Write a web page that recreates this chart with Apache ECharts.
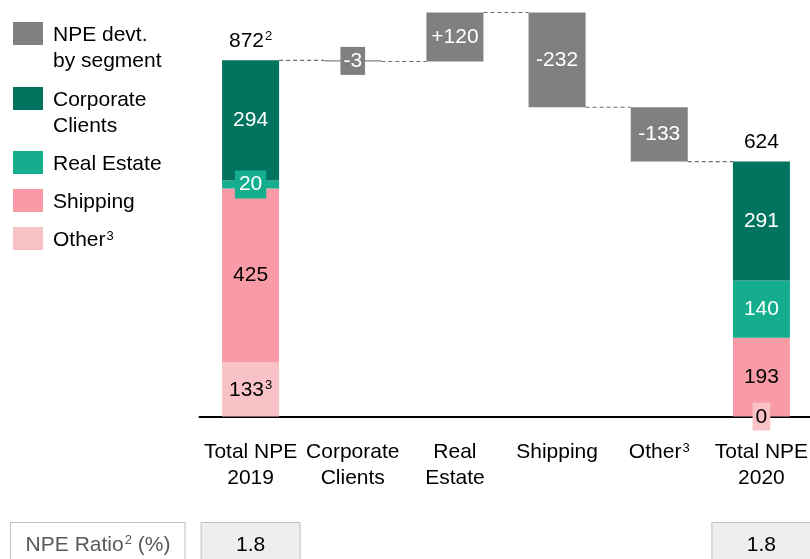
<!DOCTYPE html>
<html><head><meta charset="utf-8">
<script src="https://cdn.jsdelivr.net/npm/echarts@6/dist/echarts.min.js"></script>
<style>html,body{margin:0;padding:0;background:#fff}#c{width:810px;height:559px}</style>
</head><body><div id="c"></div>
<script>
// ---- data ----
const categories = ['Total NPE\n2019', 'Corporate\nClients', 'Real\nEstate', 'Shipping', 'Other³', 'Total NPE\n2020'];
const corporate  = [294, null, null, null, null, 291];
const realEstate = [20,  null, null, null, null, 140];
const shipping   = [425, null, null, null, null, 193];
const other      = [133, null, null, null, null, 0];
const deltas     = [null, -3, 120, -232, -133, null];
const totalNotes = ['2', '', '', '', '', ''];
const otherNotes = ['3', '', '', '', '', ''];
const npeRatio   = [1.8, null, null, null, null, 1.8];
const legendNames = ['NPE devt.\nby segment', 'Corporate\nClients', 'Real Estate', 'Shipping', 'Other³'];

// ---- styles ----
const FONT = '"Liberation Sans", Arial, sans-serif';
const FS = 21;
const C_GREY = '#808080', C_CORP = '#00745f', C_RE = '#14ad8e', C_SHIP = '#f99ba6', C_OTH = '#f8c2c7';
const legendColors = [C_GREY, C_CORP, C_RE, C_SHIP, C_OTH];
const BAR_W = 57;

// ---- derived ----
const totals = [], base = [], deltaAbs = [], levels = [];
let running = 0;
for (let i = 0; i < categories.length; i++) {
  if (deltas[i] == null) {
    const t = (corporate[i] || 0) + (realEstate[i] || 0) + (shipping[i] || 0) + (other[i] || 0);
    totals.push(t); running = t; base.push('-'); deltaAbs.push('-');
  } else {
    const prev = running; running += deltas[i];
    totals.push('-'); base.push(Math.min(prev, running)); deltaAbs.push(Math.abs(deltas[i]));
  }
  levels.push(running);
}
const connectors = [];
for (let i = 0; i < categories.length - 1; i++) connectors.push([i, levels[i]]);
const ratioData = [];
npeRatio.forEach((v, i) => { if (v != null) ratioData.push([i, v]); });
const dash = a => a.map(v => v == null ? '-' : v);

const supRich = {
  v: { fontSize: FS, fontFamily: FONT, lineHeight: 22 },
  s: { fontSize: 13, fontFamily: FONT, lineHeight: 14, verticalAlign: 'top', padding: [0, 0, 0, 1] }
};

const chart = echarts.init(document.getElementById('c'));
const barCommon = { type: 'bar', stack: 'w', barWidth: BAR_W, animation: false, emphasis: { disabled: true } };

const legendGraphics = [];
const legendTops = [22, 87, 151, 189, 227];
legendNames.forEach((n, i) => {
  legendGraphics.push({ type: 'rect', left: 13, top: legendTops[i], shape: { width: 30, height: 23 }, style: { fill: legendColors[i] } });
  const txt = n === 'Other³' ? '{a|Other}{s|3}' : n.split('\n').map(l => '{a|' + l + '}').join('\n');
  legendGraphics.push({ type: 'text', x: 53, y: legendTops[i] + 13 - 13.4,
    style: { text: txt, fill: '#000', verticalAlign: 'top',
      rich: { a: { fontSize: FS, fontFamily: FONT, lineHeight: 26.7, fill: '#000' },
              s: { fontSize: 13, fontFamily: FONT, lineHeight: 20, verticalAlign: 'top', fill: '#000', padding: [3, 0, 0, 1] } } } });
});
legendGraphics.push({ type: 'rect', shape: { x: 10.5, y: 522.5, width: 174.5, height: 45 }, style: { fill: '#fff', stroke: '#bfbfbf', lineWidth: 1 } });
legendGraphics.push({ type: 'text', x: 98, y: 545,
  style: { text: '{a|NPE Ratio}{s|2}{a| (%)}', align: 'center', verticalAlign: 'middle',
    rich: { a: { fontSize: FS, fontFamily: FONT, fill: '#595959', lineHeight: 24 },
            s: { fontSize: 13, fontFamily: FONT, fill: '#595959', lineHeight: 16, verticalAlign: 'top', padding: [1, 0, 0, 1] } } } });

chart.setOption({
  animation: false,
  grid: { left: 199.5, width: 613, top: 8, height: 408.5, outerBoundsMode: 'none', containLabel: false },
  xAxis: {
    type: 'category', data: categories,
    axisLine: { lineStyle: { color: '#000', width: 2 } },
    axisTick: { show: false },
    axisLabel: {
      interval: 0, margin: 22, color: '#000', fontSize: FS, fontFamily: FONT, lineHeight: 26.7,
      formatter: v => v === 'Other³' ? '{a|Other}{s|3}' : v,
      rich: { a: { fontSize: FS, fontFamily: FONT, color: '#000', lineHeight: 26.7 },
              s: { fontSize: 13, fontFamily: FONT, color: '#000', lineHeight: 20, verticalAlign: 'top', padding: [3, 0, 0, 1] } }
    }
  },
  yAxis: { type: 'value', min: 0, max: 1000, show: false },
  graphic: legendGraphics,
  series: [
    Object.assign({}, barCommon, { name: 'base', data: base, itemStyle: { color: 'transparent' }, silent: true }),
    Object.assign({}, barCommon, { name: 'NPE devt. by segment', data: deltaAbs, itemStyle: { color: C_GREY },
      label: { show: true, position: 'inside', color: '#fff', fontSize: FS, fontFamily: FONT,
        backgroundColor: C_GREY, padding: [4, 3, 3, 3],
        formatter: p => { const d = deltas[p.dataIndex]; return d > 0 ? '+' + d : String(d); } } }),
    Object.assign({}, barCommon, { name: 'Other³', data: dash(other), itemStyle: { color: C_OTH },
      label: { show: true, position: 'inside', color: '#000', fontSize: FS, fontFamily: FONT,
        backgroundColor: C_OTH, padding: [4, 3, 3, 3],
        formatter: p => otherNotes[p.dataIndex] ? '{v|' + p.value + '}{s|' + otherNotes[p.dataIndex] + '}' : String(p.value),
        rich: supRich } }),
    Object.assign({}, barCommon, { name: 'Shipping', data: dash(shipping), itemStyle: { color: C_SHIP },
      label: { show: true, position: 'inside', color: '#000', fontSize: FS, fontFamily: FONT } }),
    Object.assign({}, barCommon, { name: 'Real Estate', data: dash(realEstate), itemStyle: { color: C_RE },
      label: { show: true, position: 'inside', color: '#fff', fontSize: FS, fontFamily: FONT,
        backgroundColor: C_RE, padding: [4, 4, 3, 4] } }),
    Object.assign({}, barCommon, { name: 'Corporate Clients', data: dash(corporate), itemStyle: { color: C_CORP },
      label: { show: true, position: 'inside', color: '#fff', fontSize: FS, fontFamily: FONT } }),
    Object.assign({}, barCommon, { name: 'Total', data: totals.map(t => t === '-' ? '-' : 0), itemStyle: { color: 'transparent' },
      label: { show: true, position: 'top', distance: 8, color: '#000', fontSize: FS, fontFamily: FONT,
        formatter: p => { const t = totals[p.dataIndex]; const n = totalNotes[p.dataIndex];
          return n ? '{v|' + t + '}{s|' + n + '}' : '{v|' + t + '}'; },
        rich: supRich } }),
    {
      type: 'custom', name: 'connectors', data: connectors, encode: { x: 0, y: 1 }, silent: true, z: 1,
      renderItem: (params, api) => {
        const i = api.value(0), lv = api.value(1);
        const p1 = api.coord([i, lv]), p2 = api.coord([i + 1, lv]);
        return { type: 'line', shape: { x1: p1[0] + BAR_W / 2, y1: p1[1], x2: p2[0] - BAR_W / 2, y2: p2[1] },
          style: { stroke: '#6f6f6f', lineWidth: 1.2, lineDash: [4, 3] } };
      }
    },
    {
      type: 'custom', name: 'NPE Ratio', data: ratioData, encode: { x: 0, y: 1 }, silent: true, clip: false,
      renderItem: (params, api) => {
        const cx = api.coord([api.value(0), 0])[0];
        return { type: 'group', children: [
          { type: 'rect', shape: { x: cx - 49.5, y: 522.5, width: 99, height: 45 }, style: { fill: '#eeeeee', stroke: '#bfbfbf', lineWidth: 1 } },
          { type: 'text', style: { x: cx, y: 545, text: String(api.value(1)), align: 'center', verticalAlign: 'middle',
            fill: '#000', font: FS + 'px ' + FONT } }
        ] };
      }
    }
  ]
});
</script>
</body></html>
